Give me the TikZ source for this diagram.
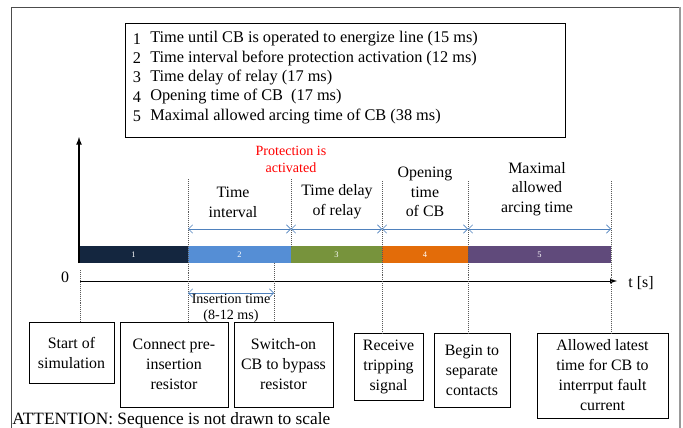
\documentclass[tikz,border=0pt]{standalone}
\usepackage{fontspec}
\setmainfont{Liberation Serif}
\newfontfamily\seriffont{Liberation Serif}
\usetikzlibrary{arrows,arrows.meta,positioning,calc}

\definecolor{segone}{HTML}{14263F}
\definecolor{segtwo}{HTML}{558ED5}
\definecolor{segthree}{HTML}{77933C}
\definecolor{segfour}{HTML}{E36C09}
\definecolor{segfive}{HTML}{604A7B}
\definecolor{dimblue}{HTML}{4F81BD}
\definecolor{alertred}{HTML}{FF0000}

\tikzset{
	txt/.style={inner sep=0pt, align=center, font=\seriffont\fontsize{11.3}{14}\selectfont},
	legtext/.style={inner sep=0pt, font=\seriffont\fontsize{11.6}{14}\selectfont},
	eventbox/.style={draw, thin, align=center, inner sep=1pt, font=\seriffont\fontsize{11.3}{14.2}\selectfont},
	tick/.style={densely dotted, gray!70!black, thin},
	dimarrow/.style={{Straight Barb[length=3pt,width=6pt]}-{Straight Barb[length=3pt,width=6pt]}, dimblue, thin},
	segnum/.style={text=white, font=\seriffont\fontsize{6}{7}\selectfont, inner sep=0pt}
}

%box of an event below the time axis: name, x1, y1, x2, y2, text
\newcommand{\eventBox}[6]{
	\node[eventbox, minimum width={(#4-#2)*0.7113pt}, minimum height={(#5-#3)*0.7113pt}]
		(#1) at ({(#2+#4)/2},{(#3+#5)/2}) {#6};
}

\begin{document}
\begin{tikzpicture}[x=0.025cm, y=-0.025cm]
	\useasboundingbox (0,0) rectangle (683,427);

	%frame, open at the bottom
	\draw[gray!60!black, line width=0.6pt] (11,440) -- (11,7) -- (680,7);
	\draw[gray!80, line width=1.6pt] (680,7) -- (680,440);

	%legend
	\draw (125,23) rectangle (565,137);
	\foreach \i/\t [evaluate=\i as \yy using {39+(\i-1)*19.3}] in {
		1/{Time until CB is operated to energize line (15 ms)},
		2/{Time interval before protection activation (12 ms)},
		3/{Time delay of relay (17 ms)},
		4/{Opening time of CB \ (17 ms)},
		5/{Maximal allowed arcing time of CB (38 ms)}}{
		\node[legtext] (num\i) at (137,\yy) {\i};
		\node[legtext, anchor=west] (leg\i) at (150,\yy) {\t};
	}

	%time marks
	\coordinate (c0) at (79,263);
	\coordinate (c1) at (188,263);
	\coordinate (c2) at (291,263);
	\coordinate (c3) at (382,263);
	\coordinate (c4) at (468,263);
	\coordinate (c5) at (611,263);
	\coordinate (ci) at (274,263);

	%coloured sequence bar
	\foreach \a/\b/\col/\n in {0/1/segone/1, 1/2/segtwo/2, 2/3/segthree/3, 3/4/segfour/4, 4/5/segfive/5}{
		\fill[\col] (c\a) ++(0,-17) rectangle (c\b);
		\node[segnum] (num-seg\n) at ($(c\a)!0.5!(c\b)+(0,-8.5)$) {\n};
	}

	%axes
	\draw[-latex, line width=0.9pt] (c0) -- (79,137);
	\coordinate (o) at (80,281);
	\coordinate (tend) at (617,281);
	\draw[-latex, line width=0.7pt] (o) -- (tend);
	\node[txt] (zero) at (65,277) {0};
	\node[txt] (tlab) at (641,283) {t [s]};

	%event boxes
	\eventBox{start}{29}{322}{114}{383}{Start of\\simulation}
	\eventBox{connect}{120}{322}{228}{407}{Connect pre-\\insertion\\resistor}
	\eventBox{switch}{234}{322}{333}{407}{Switch-on\\CB to bypass\\resistor}
	\eventBox{receive}{354}{333}{423}{400}{Receive\\tripping\\signal}
	\eventBox{begin}{434}{333}{510}{407}{Begin to\\separate\\contacts}
	\eventBox{allowed}{537}{333}{668}{418}{Allowed latest\\time for CB to\\interrput fault\\current}

	%dotted marks
	\draw[tick] (80,270) -- (80,322);
	\draw[tick] (188,179) -- (connect.north -| c1);
	\draw[tick] (ci) -- (switch.north -| ci);
	\draw[tick] (291,179) -- (291,246);
	\draw[tick] (382,181) -- (receive.north -| c3);
	\draw[tick] (468,181) -- (begin.north -| c4);
	\draw[tick] (611,181) -- (allowed.north -| c5);

	%interval arrows
	\foreach \a/\b in {1/2, 2/3, 3/4, 4/5}{
		\draw[dimarrow] (c\a |- 0,229) -- (c\b |- 0,229);
	}
	\draw[dimarrow] (188,293) -- (274,293);

	%interval labels
	\node[txt] (lint) at (233,202) {Time\\interval};
	\node[txt] (lrel) at (337,202) {Time delay\\of relay};
	\node[txt] (lopen) at (425,192) {Opening\\time\\of CB};
	\node[txt] (larc) at (537,189) {Maximal\\allowed\\arcing time};
	\node[txt, text=alertred, font=\seriffont\fontsize{10}{12}\selectfont] (prot) at (291,159) {Protection is\\activated};
	\node[txt, font=\seriffont\fontsize{10}{11.5}\selectfont] (ins) at (231,308) {Insertion time\\(8-12 ms)};

	%note
	\node[txt, anchor=west, font=\seriffont\fontsize{12.3}{14}\selectfont] (note) at (12,420) {ATTENTION: Sequence is not drawn to scale};
\end{tikzpicture}
\end{document}
